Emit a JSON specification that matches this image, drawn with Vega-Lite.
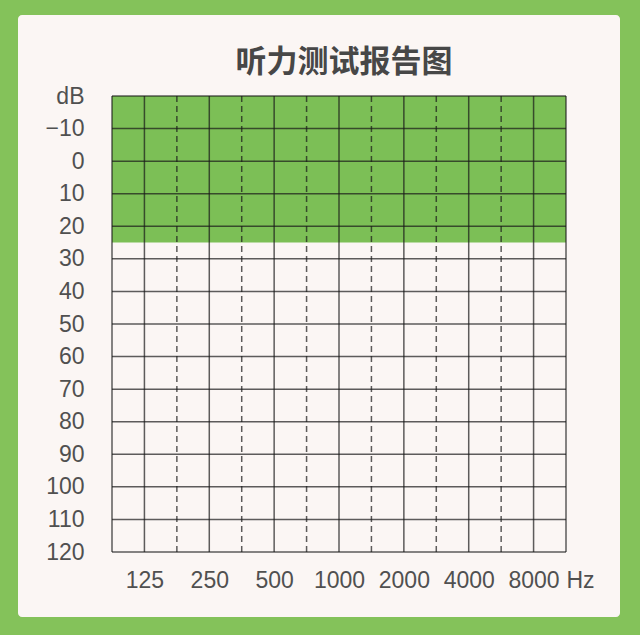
{
  "$schema": "https://vega.github.io/schema/vega-lite/v6.json",
  "width": 602,
  "height": 602,
  "autosize": "none",
  "padding": {"left": 18, "top": 15, "right": 20, "bottom": 18},
  "background": "#84c25a",
  "title": {
    "text": "听力测试报告图",
    "font": "Noto Sans CJK SC",
    "fontSize": 31,
    "fontWeight": "bold",
    "color": "#474747",
    "anchor": "middle",
    "frame": "group",
    "baseline": "middle",
    "offset": -47,
    "dx": 25,
    "dy": 32
  },
  "config": {
    "view": {"fill": "#fbf6f4", "stroke": null, "cornerRadius": 4}
  },
  "datasets": {
    "band": [{"zone": "normal", "from": -20, "to": 25}],
    "levels": [
      {"db": -20}, {"db": -10}, {"db": 0}, {"db": 10}, {"db": 20},
      {"db": 30}, {"db": 40}, {"db": 50}, {"db": 60}, {"db": 70},
      {"db": 80}, {"db": 90}, {"db": 100}, {"db": 110}, {"db": 120}
    ],
    "freqs": [
      {"hz": 88.388, "kind": "edge"},
      {"hz": 125, "kind": "octave"},
      {"hz": 176.78, "kind": "half"},
      {"hz": 250, "kind": "octave"},
      {"hz": 353.55, "kind": "half"},
      {"hz": 500, "kind": "octave"},
      {"hz": 707.11, "kind": "half"},
      {"hz": 1000, "kind": "octave"},
      {"hz": 1414.2, "kind": "half"},
      {"hz": 2000, "kind": "octave"},
      {"hz": 2828.4, "kind": "half"},
      {"hz": 4000, "kind": "octave"},
      {"hz": 5656.9, "kind": "half"},
      {"hz": 8000, "kind": "octave"},
      {"hz": 11313.7, "kind": "edge"}
    ]
  },
  "layer": [
    {
      "data": {"name": "band"},
      "mark": {"type": "rect", "color": "#7cbf56"},
      "encoding": {
        "x": {
          "datum": 88.388,
          "type": "quantitative",
          "scale": {"type": "log", "base": 2, "nice": false, "domain": [88.388, 11313.7], "range": [94, 548]},
          "axis": {
            "orient": "bottom",
            "values": [125, 250, 500, 1000, 2000, 4000, 8000],
            "format": "d",
            "domain": false,
            "ticks": false,
            "grid": false,
            "labelPadding": 0,
            "offset": -37,
            "labelFont": "Liberation Sans",
            "labelFontSize": 23,
            "labelColor": "#505050",
            "labelBaseline": "middle",
            "labelOverlap": false,
            "labelFlush": false,
            "title": "Hz",
            "titleX": 562,
            "titleY": 0,
            "titleAlign": "center",
            "titleBaseline": "middle",
            "titleFont": "Liberation Sans",
            "titleFontSize": 23,
            "titleFontWeight": "normal",
            "titleColor": "#505050"
          }
        },
        "x2": {"datum": 11313.7},
        "y": {
          "field": "from",
          "type": "quantitative",
          "scale": {"nice": false, "zero": false, "domain": [-20, 120], "range": [81, 537]},
          "axis": {
            "orient": "left",
            "values": [-20, -10, 0, 10, 20, 30, 40, 50, 60, 70, 80, 90, 100, 110, 120],
            "labelExpr": "datum.value == -20 ? 'dB' : datum.label",
            "domain": false,
            "ticks": false,
            "grid": false,
            "labelPadding": 0,
            "offset": -66,
            "labelFont": "Liberation Sans",
            "labelFontSize": 23,
            "labelColor": "#505050",
            "labelAlign": "right",
            "labelBaseline": "middle",
            "labelOverlap": false,
            "labelFlush": false,
            "title": null
          }
        },
        "y2": {"field": "to"}
      }
    },
    {
      "data": {"name": "levels"},
      "mark": {"type": "rule", "color": "#1a1a1a", "opacity": 0.7, "strokeWidth": 1.5},
      "encoding": {
        "x": {"datum": 88.388, "type": "quantitative"},
        "x2": {"datum": 11313.7},
        "y": {"field": "db", "type": "quantitative"}
      }
    },
    {
      "data": {"name": "freqs"},
      "mark": {"type": "rule", "color": "#1a1a1a", "opacity": 0.7, "strokeWidth": 1.5},
      "encoding": {
        "x": {"field": "hz", "type": "quantitative"},
        "y": {"datum": -20, "type": "quantitative"},
        "y2": {"datum": 120},
        "strokeDash": {
          "field": "kind",
          "type": "nominal",
          "scale": {"domain": ["edge", "octave", "half"], "range": [[1, 0], [1, 0], [6, 4]]},
          "legend": null
        }
      }
    }
  ]
}
